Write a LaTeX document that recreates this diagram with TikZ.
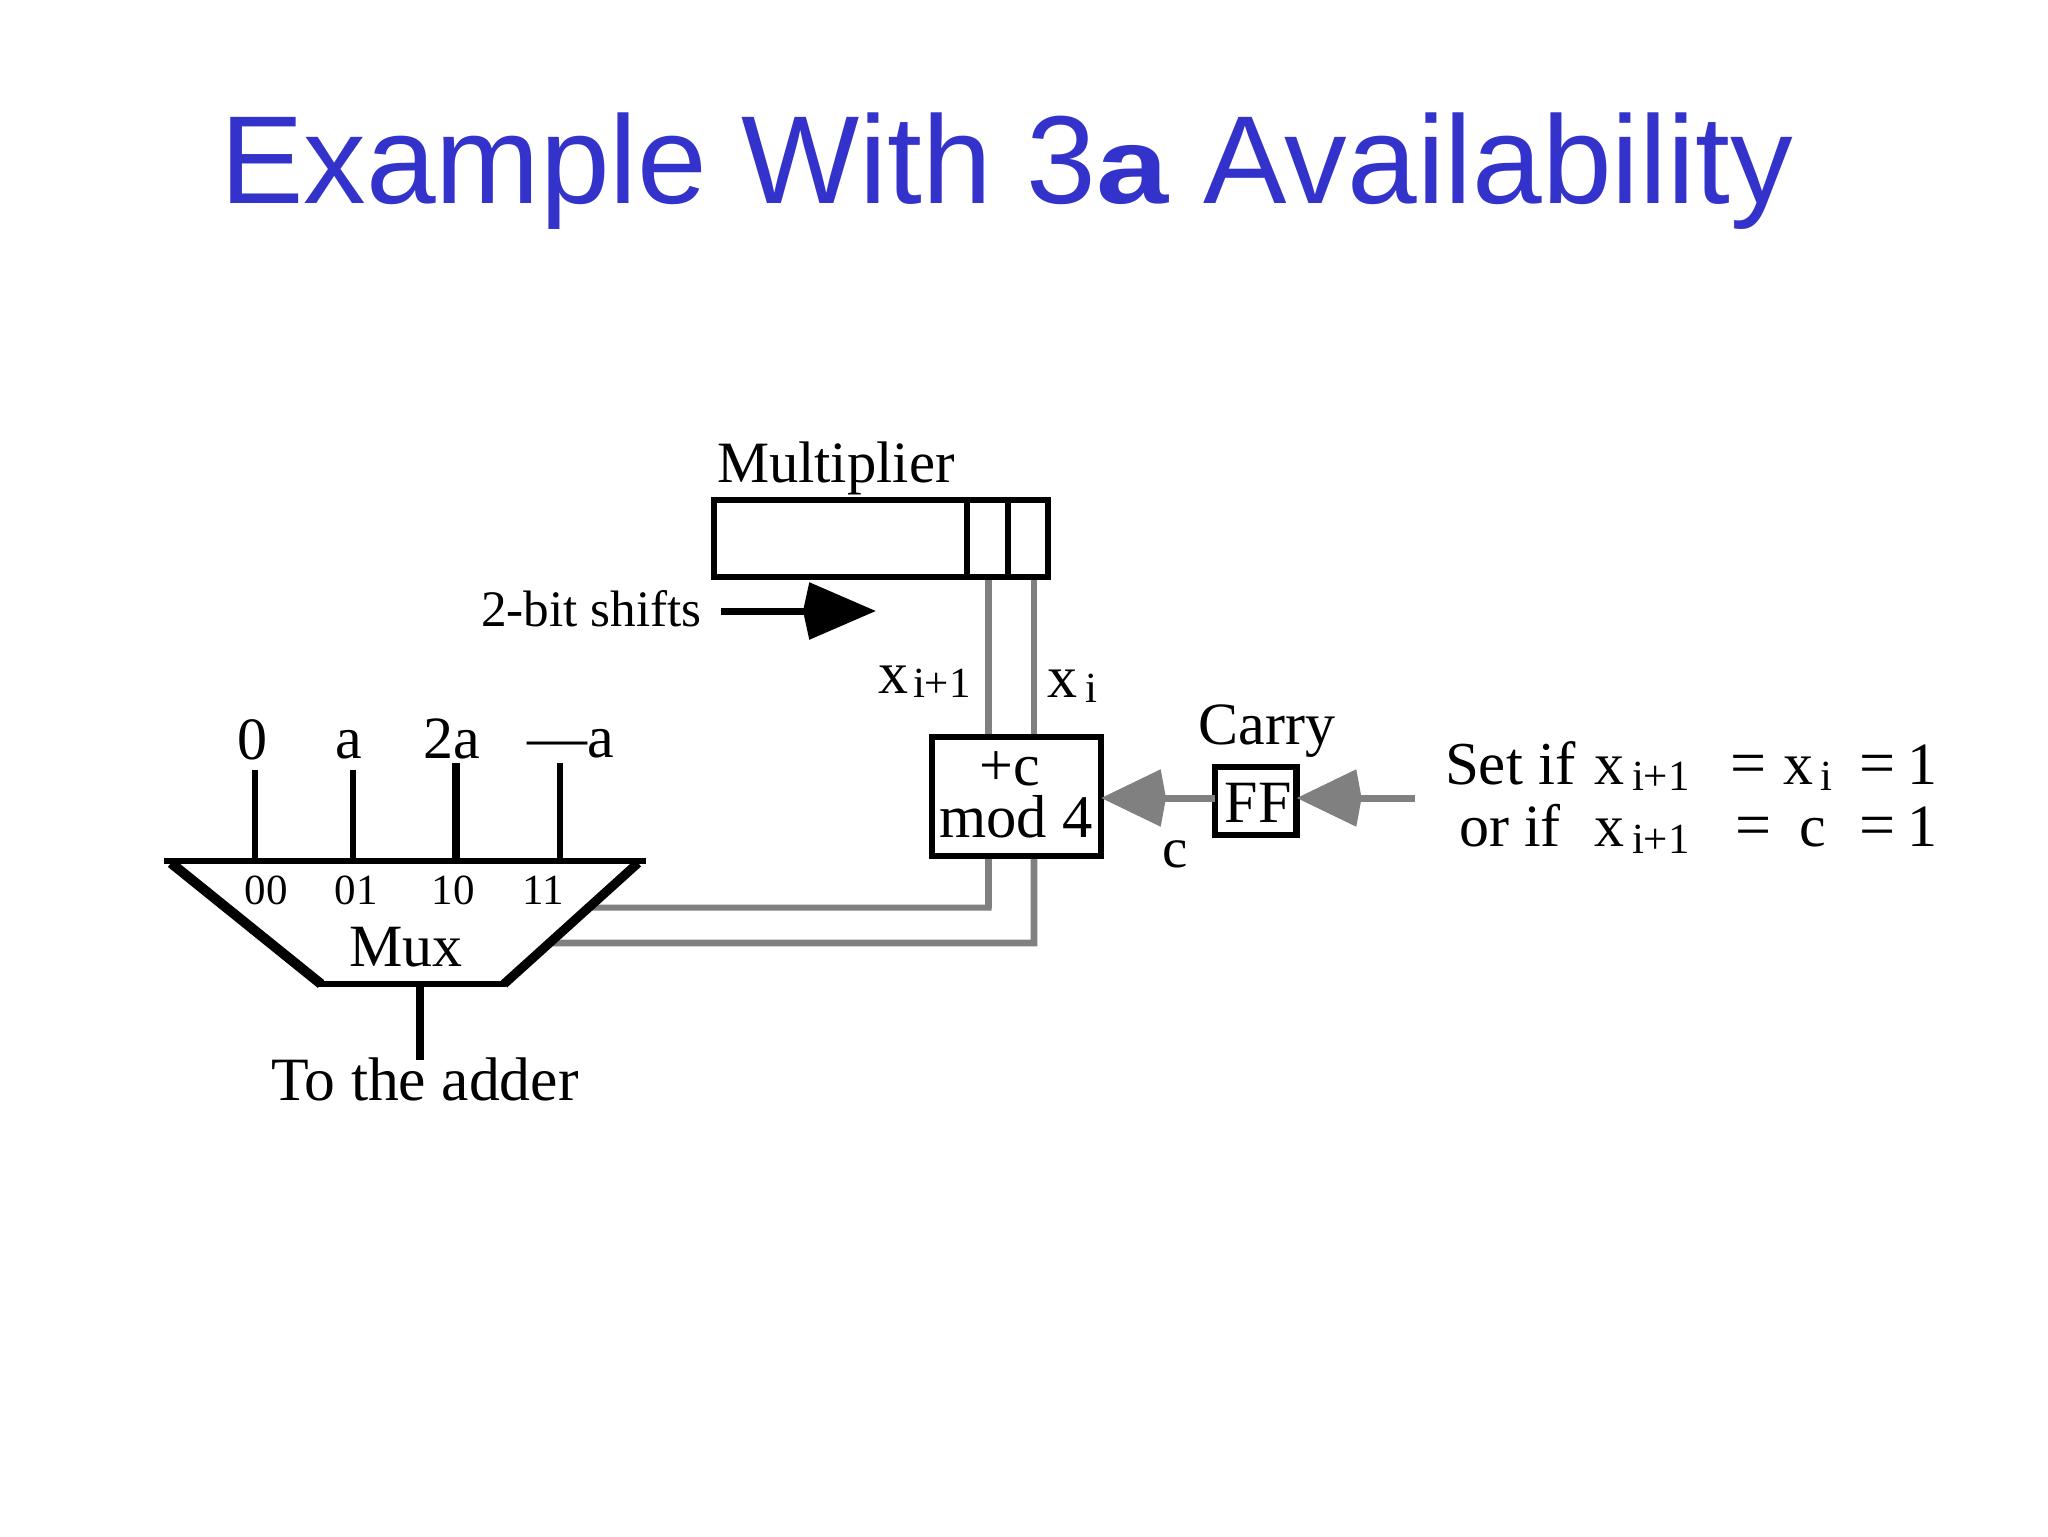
\documentclass[tikz,border=0pt]{standalone}
\usepackage{fontspec}
\setmainfont{Liberation Serif}
\newfontfamily\titlefont{Liberation Sans}
\usetikzlibrary{arrows.meta,calc}
\definecolor{titleblue}{HTML}{3333CC}
\definecolor{wiregray}{HTML}{808080}
\newcommand{\fs}[1]{\fontsize{#1}{#1}\selectfont}
\tikzset{
  x=0.5pt,y=-0.5pt,
  lbl/.style={inner sep=0pt,outer sep=0pt,anchor=base,font=\fs{30pt}},
  lblw/.style={lbl,anchor=base west},
  eqs/.style={lblw,font=\fs{32pt}},
  subs/.style={lblw,font=\fs{21.5pt}},
  digits/.style={lbl,font=\fs{21.5pt}},
  blk/.style={draw=black,line width=3.4pt},
  wire/.style={draw=wiregray,line width=3.5pt},
  boxn/.style={draw=black,fill=white,line width=3.4pt,inner sep=0pt,outer sep=0pt,anchor=north west},
  gtip/.style={-{Stealth[length=29.5pt,width=27.5pt,inset=-3pt,fill=wiregray]}},
  ktip/.style={-{Stealth[length=33pt,width=27.5pt,inset=-3.5pt,fill=black]}},
}
\begin{document}
\begin{tikzpicture}
\useasboundingbox (0,0) rectangle (2048,1536);

% title
\node[inner sep=0pt,outer sep=0pt,anchor=base west,text=titleblue,font=\titlefont\fs{62.6pt}] (title) at (220,203)
  {Example With 3{\fs{54pt}\bfseries\scalebox{1.2}[1]{a}} Availability};

% coordinates
\coordinate (mtl) at (164,861); \coordinate (mtr) at (646,861);
\coordinate (msl) at (171,863); \coordinate (msr) at (638,863);
\coordinate (mbl) at (321,984); \coordinate (mbr) at (504,984);
\coordinate (muxout) at (420,984); \coordinate (adderend) at (420,1060);
\coordinate (in0) at (254.5,770); \coordinate (in1) at (353,770);
\coordinate (in2) at (456,763);  \coordinate (in3) at (559.5,763);
\coordinate (b0) at (254.5,861); \coordinate (b1) at (353,861);
\coordinate (b2) at (456,861);   \coordinate (b3) at (559.5,861);
\coordinate (edgeA) at ($(mtr)!0.378!(mbr)$);
\coordinate (edgeB) at ($(mtr)!0.667!(mbr)$);
\coordinate (tapA) at (988,907.5); \coordinate (tapB) at (1034,943);
\coordinate (shiftstart) at (721,611); \coordinate (shiftend) at (876,611);
\coordinate (setstart) at (1414.6,798);

% gray wires (behind the boxes)
\draw[wire] (988,577) -- (988,737);
\draw[wire,line width=3.2pt] (1034,577) -- (1034,737);
\draw[wire] (988,856) -- (tapA);
\draw[wire,line width=3pt] ($(tapA)+(3.5,0)$) -- (edgeA);
\draw[wire,line width=3.4pt] (1034,856) -- (tapB) -- (edgeB);

% multiplier register
\node[boxn,minimum width=167pt,minimum height=38.5pt] (reg) at (714,500) {};
\draw[blk] (967,500) -- (967,577);
\draw[blk] (1008,500) -- (1008,577);
\node[lblw,font=\fs{29.3pt}] (multlabel) at (717,482.5) {Multiplier};

% shift arrow
\node[lblw,font=\fs{25.6pt}] (shiftlabel) at (481,626) {2-bit shifts};
\draw[line width=3.5pt,ktip] (shiftstart) -- (shiftend);

% subscript labels
\node[lblw] (xa) at (878,693) {x};
\node[subs] (xasub) at (913,697) {i+1};
\node[lblw] (xb) at (1047,697) {x};
\node[subs] (xbsub) at (1085,702) {i};

% adder box
\node[boxn,minimum width=84.5pt,minimum height=59.5pt] (adder) at (932,737) {};
\node[lbl,font=\fs{30pt}] (addtop) at (1010,785) {+c};
\node[lbl,font=\fs{30.3pt}] (addbot) at (1016,837) {mod 4};

% carry flip-flop
\node[boxn,minimum width=40.8pt,minimum height=34pt] (ff) at (1215,767) {};
\node[lbl] (fflabel) at (1258,822) {FF};
\node[lbl] (carry) at (1267,744) {Carry};
\node[lbl,font=\fs{28.5pt}] (clabel) at (1175,867) {c};
\draw[wire,gtip] (ff.west |- setstart) -- (adder.east |- setstart);
\draw[wire,gtip] (setstart) -- (ff.east |- setstart);

% mux
\fill[white] (mtl) -- (mtr) -- (mbr) -- (mbl) -- cycle;
\draw[black,line width=5pt] (msl) -- (mbl);
\draw[black,line width=4.6pt] (msr) -- (mbr);
\draw[blk] (mtl) -- (mtr);
\draw[blk] ($(mbl)+(-2,0)$) -- ($(mbr)+(2,0)$);
\draw[black,line width=3pt] (in0) -- (b0);
\draw[black,line width=3pt] (in1) -- (b1);
\draw[black,line width=4.2pt] (in2) -- (b2);
\draw[black,line width=3pt] (in3) -- (b3);
\draw[black,line width=4.2pt] (muxout) -- (adderend);
\node[lbl] (v0) at (252,759) {0};
\node[lbl] (v1) at (349,758) {a};
\node[lbl] (v2) at (452,758) {2a};
\node[lblw] (v3) at (527,757) {—a};
\node[digits] (d0) at (266,904) {00};
\node[digits] (d1) at (356,904) {01};
\node[digits] (d2) at (453,904) {10};
\node[digits] (d3) at (543,904) {11};
\node[lbl,font=\fs{30pt}] (muxlabel) at (406,966) {Mux};
\node[lbl,font=\fs{30.8pt}] (tothe) at (425,1100) {To the adder};

% condition text
\node[lblw,font=\fs{30.5pt}] (s1) at (1445,784) {Set if};
\node[lblw] (s2) at (1594,784) {x};
\node[subs] (s3) at (1632,790) {i+1};
\node[eqs] (s4) at (1730,784) {=};
\node[lblw] (s5) at (1783,784) {x};
\node[subs] (s6) at (1820,790) {i};
\node[eqs] (s7) at (1859,784) {=};
\node[lbl] (s8) at (1922,784) {1};
\node[lblw] (o1) at (1459,846) {or if};
\node[lblw] (o2) at (1594,846) {x};
\node[subs] (o3) at (1632,853) {i+1};
\node[eqs] (o4) at (1735,846) {=};
\node[lbl] (o5) at (1813,846) {c};
\node[eqs] (o6) at (1859,846) {=};
\node[lbl] (o7) at (1922,846) {1};
\end{tikzpicture}
\end{document}
